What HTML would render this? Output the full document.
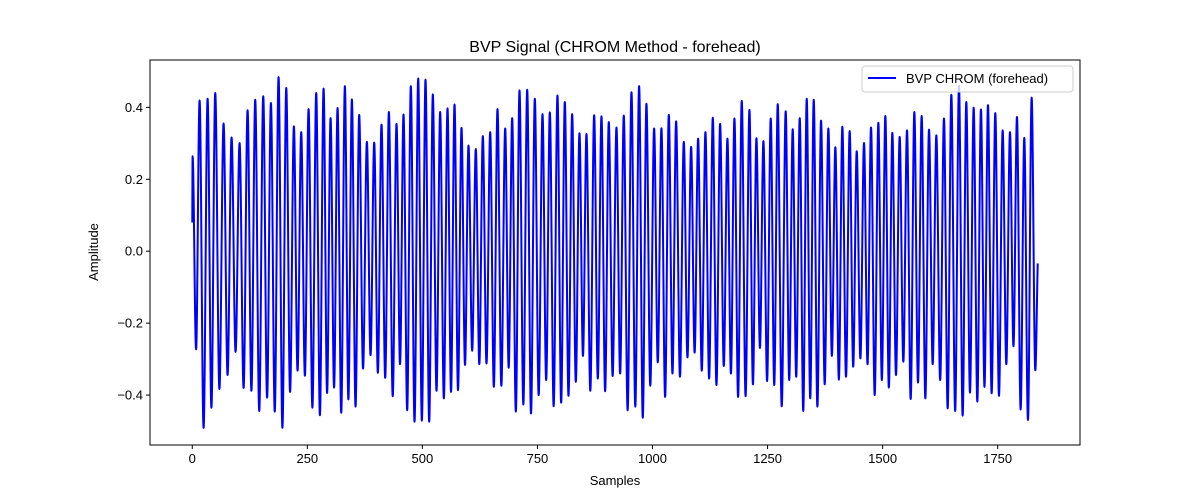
<!DOCTYPE html>
<html><head><meta charset="utf-8"><style>
body{margin:0;background:#fff;}
svg{display:block;font-family:"Liberation Sans","DejaVu Sans",sans-serif;}
</style></head><body>
<svg id="chart" width="1200" height="500">
<rect width="1200" height="500" fill="#fff"/>
<text x="615" y="52" text-anchor="middle" font-size="16">BVP Signal (CHROM Method - forehead)</text>
<path id="line" fill="none" stroke="#0000ff" stroke-width="2" stroke-linejoin="round"/>
<rect x="150" y="60" width="930" height="385" fill="none" stroke="#000" stroke-width="1"/>
<g id="axes"></g>
<text x="615" y="485" text-anchor="middle" font-size="13">Samples</text>
<text transform="translate(98,252) rotate(-90)" text-anchor="middle" font-size="13">Amplitude</text>
<g>
<rect x="862" y="66" width="211" height="26" rx="3" fill="#fff" fill-opacity="0.8" stroke="#ccc"/>
<line x1="868" y1="78" x2="896" y2="78" stroke="#0000ff" stroke-width="2"/>
<text x="906" y="83" font-size="13">BVP CHROM (forehead)</text>
</g>
</svg>
<script>
const startValue = 0.08;
const endValue = -0.034;
const endSample = 1837;
const lastTroughSample = 1831.7;
const peakSamples = [0.7,15.9,33.3,49.9,68.0,85.4,102.8,120.2,136.8,154.2,170.9,187.5,204.2,220.8,236.7,252.7,269.3,285.3,300.5,315.7,331.6,346.8,362.7,379.4,395.3,411.2,427.2,443.8,459.0,474.9,490.9,506.8,522.7,538.6,554.6,569.8,585.0,600.2,616.1,631.3,
647.3,663.2,679.9,695.1,711.0,727.7,744.3,761.0,776.9,793.5,809.5,825.4,841.3,856.5,873.2,889.1,905.0,921.7,937.6,954.3,970.9,986.8,1003.5,1019.4,1035.4,1051.3,1068.0,1083.9,1099.1,1115.0,1131.0,1146.9,1162.8,1178.0,1193.9,1210.6,1225.8,1241.0,1256.9,1272.1,
1289.4,1304.6,1319.9,1335.1,1350.3,1366.2,1382.1,1397.3,1412.5,1428.4,1443.7,1459.6,1474.8,1490.7,1505.9,1521.1,1537.0,1553.0,1568.9,1584.8,1600.8,1616.7,1633.3,1649.3,1665.9,1681.8,1697.8,1713.7,1728.9,1744.8,1760.8,1776.7,1791.9,1807.8,1823.8];
const peakValues = [0.264,0.419,0.424,0.44,0.355,0.316,0.301,0.392,0.421,0.431,0.412,0.484,0.454,0.347,0.331,0.395,0.44,0.452,0.37,0.398,0.459,0.422,0.379,0.304,0.302,0.352,0.387,0.354,0.38,0.459,0.48,0.477,0.436,0.387,0.397,0.408,0.343,0.294,0.284,0.32,
0.331,0.395,0.341,0.37,0.447,0.449,0.424,0.381,0.386,0.433,0.415,0.381,0.328,0.326,0.378,0.375,0.359,0.344,0.377,0.442,0.459,0.41,0.341,0.342,0.379,0.361,0.304,0.29,0.313,0.331,0.371,0.354,0.313,0.369,0.418,0.393,0.314,0.306,0.369,0.409,
0.389,0.339,0.37,0.424,0.421,0.363,0.341,0.289,0.346,0.334,0.278,0.301,0.344,0.357,0.376,0.329,0.318,0.336,0.387,0.376,0.338,0.322,0.369,0.435,0.46,0.415,0.399,0.394,0.406,0.384,0.336,0.331,0.373,0.315,0.427];
const troughValues = [-0.273,-0.491,-0.435,-0.383,-0.344,-0.28,-0.38,-0.388,-0.444,-0.407,-0.446,-0.491,-0.391,-0.332,-0.346,-0.435,-0.456,-0.394,-0.379,-0.449,-0.412,-0.432,-0.326,-0.289,-0.338,-0.352,-0.403,-0.314,-0.442,-0.474,-0.471,-0.474,-0.388,-0.409,-0.391,-0.386,-0.316,-0.277,-0.314,
-0.312,-0.377,-0.374,-0.324,-0.446,-0.426,-0.451,-0.4,-0.358,-0.431,-0.421,-0.402,-0.363,-0.291,-0.388,-0.354,-0.389,-0.347,-0.34,-0.442,-0.432,-0.463,-0.374,-0.309,-0.405,-0.34,-0.349,-0.295,-0.282,-0.332,-0.354,-0.372,-0.319,-0.34,-0.405,-0.403,-0.37,-0.269,-0.361,-0.372,
-0.431,-0.358,-0.349,-0.444,-0.409,-0.432,-0.37,-0.291,-0.357,-0.349,-0.321,-0.298,-0.314,-0.4,-0.358,-0.379,-0.344,-0.307,-0.411,-0.365,-0.409,-0.314,-0.358,-0.437,-0.444,-0.457,-0.393,-0.418,-0.377,-0.395,-0.402,-0.314,-0.264,-0.44,-0.469,-0.331];
const xTicks = [0,250,500,750,1000,1250,1500,1750];
const yTicks = [-0.4,-0.2,0.0,0.2,0.4];

const X0=150,X1=1080,Y0=60,Y1=445;
const xMin=-91.85,xMax=1928.85,yMin=-0.5387,yMax=0.5316;
const xs=v=>X0+(v-xMin)/(xMax-xMin)*(X1-X0);
const ys=v=>Y1-(v-yMin)/(yMax-yMin)*(Y1-Y0);
const NS='http://www.w3.org/2000/svg';

const pts=[[0,startValue]];
for(let i=0;i<peakValues.length;i++){
  pts.push([peakSamples[i],peakValues[i]]);
  if(i<troughValues.length){
    const ts=(i+1<peakSamples.length)?(peakSamples[i]+peakSamples[i+1])/2:lastTroughSample;
    pts.push([ts,troughValues[i]]);
  }
}
pts.push([endSample,endValue]);
let d='M'+xs(pts[0][0]).toFixed(2)+','+ys(pts[0][1]).toFixed(2);
for(let i=1;i<pts.length;i++){
  const a=[xs(pts[i-1][0]),ys(pts[i-1][1])],b=[xs(pts[i][0]),ys(pts[i][1])];
  const dx=(b[0]-a[0])*0.36;
  const c1y=(i===1)?a[1]+(b[1]-a[1])*0.3:a[1];
  const c2y=(i===pts.length-1)?b[1]-(b[1]-a[1])*0.3:b[1];
  d+=' C'+(a[0]+dx).toFixed(2)+','+c1y.toFixed(2)+' '+(b[0]-dx).toFixed(2)+','+c2y.toFixed(2)+' '+b[0].toFixed(2)+','+b[1].toFixed(2);
}
document.getElementById('line').setAttribute('d',d);

const ax=document.getElementById('axes');
xTicks.forEach(t=>{
  const x=xs(t);
  const l=document.createElementNS(NS,'line');
  l.setAttribute('x1',x);l.setAttribute('x2',x);l.setAttribute('y1',Y1);l.setAttribute('y2',Y1+4);l.setAttribute('stroke','#000');
  
  
  ax.appendChild(l);
  const tx=document.createElementNS(NS,'text');
  tx.setAttribute('x',x);tx.setAttribute('y',Y1+18);tx.setAttribute('text-anchor','middle');tx.setAttribute('font-size','13');
  tx.textContent=String(t);
  
  
  ax.appendChild(tx);
});
yTicks.forEach(t=>{
  const y=ys(t);
  const l=document.createElementNS(NS,'line');
  l.setAttribute('x1',X0-4);l.setAttribute('x2',X0);l.setAttribute('y1',y);l.setAttribute('y2',y);l.setAttribute('stroke','#000');
  
  
  ax.appendChild(l);
  const tx=document.createElementNS(NS,'text');
  tx.setAttribute('x',X0-7);tx.setAttribute('y',y+4.5);tx.setAttribute('text-anchor','end');tx.setAttribute('font-size','13');
  tx.textContent=(t<0?'\u2212':'')+Math.abs(t).toFixed(1);
  
  
  ax.appendChild(tx);
});
</script>
</body></html>
